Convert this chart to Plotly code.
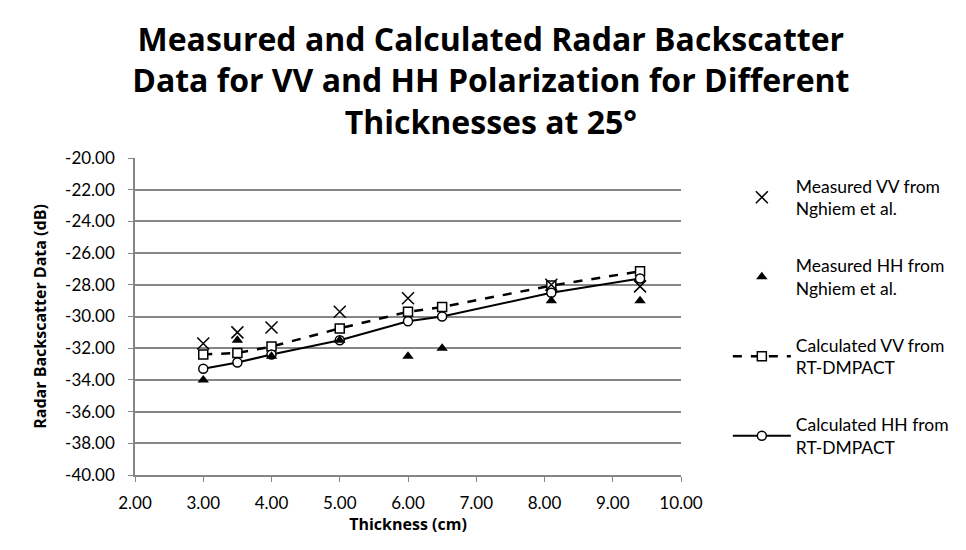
import plotly.graph_objects as go

# Data
x_meas_vv = [3.0, 3.5, 4.0, 5.0, 6.0, 8.1, 9.4]
meas_vv = [-31.7, -31.0, -30.7, -29.7, -28.85, -28.0, -28.1]

x_meas_hh = [3.0, 3.5, 4.0, 5.0, 6.0, 6.5, 8.1, 9.4]
meas_hh = [-34.0, -31.5, -32.5, -31.5, -32.5, -32.0, -29.0, -29.0]

x_calc = [3.0, 3.5, 4.0, 5.0, 6.0, 6.5, 8.1, 9.4]
calc_vv = [-32.4, -32.3, -31.9, -30.75, -29.7, -29.4, -28.05, -27.15]
calc_hh = [-33.3, -32.9, -32.4, -31.5, -30.3, -30.0, -28.5, -27.6]

x_ticks = [2, 3, 4, 5, 6, 7, 8, 9, 10]
y_ticks = [-20, -22, -24, -26, -28, -30, -32, -34, -36, -38, -40]

FONT = "Lato"
BOLD = "Open Sans"

fig = go.Figure()

fig.add_trace(go.Scatter(
    x=x_calc, y=calc_vv, mode="lines+markers",
    name="Calculated VV from<br>RT-DMPACT", legendgroup="c",
    line=dict(color="black", width=2.5, dash="dash"),
    marker=dict(symbol="square", size=9, color="white",
                line=dict(color="black", width=1.5)),
    legendrank=3,
))
fig.add_trace(go.Scatter(
    x=x_calc, y=calc_hh, mode="lines+markers",
    name="Calculated HH from<br>RT-DMPACT", legendgroup="d",
    line=dict(color="black", width=2),
    marker=dict(symbol="circle", size=9, color="white",
                line=dict(color="black", width=1.5)),
    legendrank=4,
))
fig.add_trace(go.Scatter(
    x=x_meas_hh, y=meas_hh, mode="markers",
    name="Measured HH from<br>Nghiem et al.", legendgroup="b",
    marker=dict(symbol="triangle-up", size=10, color="black"),
    legendrank=2,
))
fig.add_trace(go.Scatter(
    x=x_meas_vv, y=meas_vv, mode="markers",
    name="Measured VV from<br>Nghiem et al.", legendgroup="a",
    marker=dict(symbol="x-thin", size=12, color="black",
                line=dict(color="black", width=1.5)),
    legendrank=1,
))

fig.update_layout(
    width=958, height=542,
    paper_bgcolor="white", plot_bgcolor="white",
    margin=dict(l=127, r=283, t=150, b=75),
    font=dict(family=FONT, color="black", size=17),
    title=dict(
        text="Measured and Calculated Radar Backscatter<br>Data for VV and HH Polarization for Different<br>Thicknesses at 25°",
        x=0.504, xanchor="center", y=0.921, yanchor="top",
        font=dict(family=BOLD, size=32, color="black", weight="bold"),
    ),
    xaxis=dict(
        range=[2, 10], tickvals=x_ticks,
        ticktext=[f"{v:.2f}" for v in x_ticks],
        showgrid=False, zeroline=False,
        showline=True, linecolor="#868686", linewidth=1.5,
        ticks="outside", ticklen=5, tickcolor="#868686",
        ticklabelstandoff=7,
        title=dict(text="Thickness (cm)",
                   font=dict(family=BOLD, size=16, weight="bold"), standoff=6),
        tickfont=dict(size=17),
    ),
    yaxis=dict(
        range=[-40, -20], tickvals=y_ticks,
        ticktext=[f"{v:.2f}" for v in y_ticks],
        showgrid=True, gridcolor="#868686", gridwidth=1.5,
        zeroline=False,
        showline=True, linecolor="#868686", linewidth=1.5,
        ticks="outside", ticklen=5, tickcolor="#868686",
        ticklabelstandoff=10,
        title=dict(text="Radar Backscatter Data (dB)",
                   font=dict(family=BOLD, size=16, weight="bold"), standoff=14),
        tickfont=dict(size=17),
    ),
    legend=dict(
        x=1.0858, xanchor="left", y=0.9685, yanchor="top",
        font=dict(family=FONT, size=17.5, color="black"),
        tracegroupgap=31, itemwidth=58,
        bgcolor="rgba(0,0,0,0)",
    ),
    showlegend=True,
)

fig.write_html("out.html")
